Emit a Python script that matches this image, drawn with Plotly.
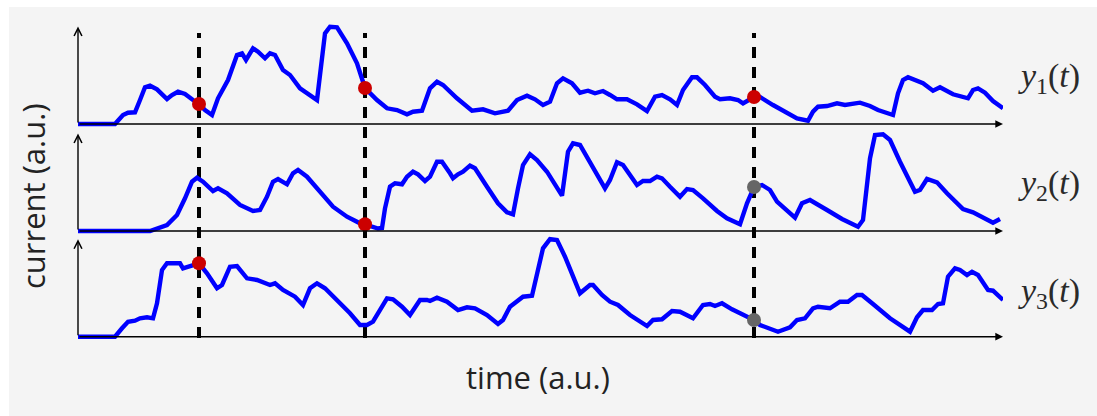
import plotly.graph_objects as go

# ---------------- data (time in a.u., current in a.u.) ----------------
t1 = [0, 37, 39, 45, 50, 57, 62, 67, 72, 79, 89, 94, 100, 107, 115, 121, 127, 134, 140, 150, 159, 164, 168, 175,
      180, 187, 192, 197, 205, 212, 222, 227, 239, 247, 252, 259, 269, 279, 287, 299, 309, 319, 329, 335, 344, 352,
      359, 365, 379, 394, 405, 417, 430, 439, 449, 457, 465, 472, 479, 485, 494, 502, 510, 517, 525, 532, 539, 549,
      559, 569, 577, 584, 592, 599, 605, 614, 619, 627, 637, 642, 652, 660, 665, 676, 682, 695, 709, 719, 730, 735,
      740, 749, 759, 767, 782, 792, 800, 815, 820, 825, 830, 845, 855, 862, 875, 882, 890, 895, 900, 907, 915, 925]
y1 = [0, 0, 2.3, 9, 11.3, 11.7, 24, 36.7, 38.3, 34.7, 25, 29, 32.3, 30, 24, 20, 14, 9, 25.7, 44, 69, 70.7, 64, 75.7,
      72.3, 65.7, 70.7, 69, 54, 49, 35.7, 32.3, 24, 90.7, 97.3, 96.7, 80.7, 60.7, 36, 24, 15.7, 14, 9.7, 12.3, 13.3,
      35.7, 42.3, 39, 25.7, 13.3, 14.7, 10.7, 13.3, 24, 28.3, 24.7, 19, 22.3, 40.7, 45.7, 40.7, 31.3, 33.3, 30.7, 33,
      29, 24.7, 24.7, 19.7, 13, 27.3, 29, 24.7, 19, 34, 46.7, 46.7, 39, 27.3, 24.7, 25.7, 24, 20.7, 27, 27, 19, 10.7,
      5.7, 3.3, 12.3, 17.3, 18, 20.7, 19, 21.3, 18, 14, 9, 30.7, 44, 46.7, 40.7, 33.3, 36.7, 29.7, 27.3, 25.7, 34,
      35.7, 31.3, 23, 15.7]

t2 = [0, 72, 89, 99, 107, 114, 119, 125, 135, 140, 149, 162, 175, 182, 189, 195, 200, 209, 215, 220, 229, 242, 255,
      269, 282, 287, 300, 304, 307, 312, 317, 324, 329, 335, 340, 347, 352, 359, 364, 372, 375, 380, 385, 392, 397,
      409, 420, 429, 435, 440, 445, 452, 459, 469, 484, 490, 495, 502, 510, 527, 532, 539, 545, 559, 565, 572, 579,
      584, 592, 602, 609, 615, 625, 639, 649, 662, 669, 676, 684, 692, 699, 717, 724, 732, 749, 764, 780, 785, 792,
      797, 805, 812, 822, 837, 842, 849, 859, 869, 885, 895, 915, 922]
y2 = [0, 0, 6, 16, 32.7, 49.3, 53.3, 49.3, 40, 42.7, 37.7, 26, 20, 21, 34.3, 49.3, 52, 46.7, 57.7, 61, 54.3, 39.3,
      24.3, 14.3, 7.7, 6.7, 2.5, 3, 22.7, 44.3, 47.7, 46.7, 54.3, 59.3, 56.7, 50, 54.3, 69.3, 69.3, 57.7, 52.7, 56.7,
      59.3, 65.3, 62.7, 44.3, 27.7, 18.7, 16.7, 42.7, 66, 76.7, 71, 59.3, 35.3, 79.3, 87.7, 86, 72.7, 42.7, 51, 68.7,
      66, 46, 50, 50, 54.3, 52.7, 44.3, 34.3, 42, 41, 32.7, 20, 12.7, 6.7, 27.7, 44, 46, 41, 29.3, 13.3, 27.7, 31, 21,
      12, 4.3, 11, 72.7, 96, 96.7, 91, 69.3, 39.3, 41, 52, 48.7, 37.7, 22, 18.7, 8.3, 12]

t3 = [0, 37, 44, 50, 57, 62, 69, 75, 79, 84, 89, 102, 105, 110, 115, 121, 129, 139, 144, 152, 159, 169, 179, 189,
      192, 197, 205, 217, 225, 232, 239, 247, 259, 272, 282, 289, 295, 302, 309, 315, 324, 332, 342, 349, 352, 359,
      369, 380, 389, 397, 409, 420, 425, 432, 439, 445, 454, 459, 465, 472, 479, 487, 495, 502, 512, 515, 524, 532,
      540, 552, 569, 575, 584, 594, 602, 615, 625, 632, 637, 644, 654, 662, 676, 682, 690, 700, 712, 719, 727, 735,
      740, 752, 762, 770, 779, 784, 795, 812, 832, 839, 845, 854, 860, 865, 870, 877, 882, 889, 894, 900, 910, 915,
      925]
y3 = [0, 0, 8.4, 15, 16, 18.4, 19.4, 18.4, 33.4, 66.7, 73.4, 73.4, 68.4, 70, 72.4, 73.4, 63.4, 48.4, 51.7, 70,
      70.7, 58.4, 56.7, 53.4, 51.7, 53.4, 46.7, 40, 31.7, 48.4, 53.4, 48.4, 36.7, 23.4, 11.7, 11.7, 15, 26.7, 38.4,
      37.4, 30, 21.7, 36.7, 36.7, 35.7, 39, 35, 26.7, 29.4, 28.4, 21.7, 12.7, 16.7, 30, 35, 40, 41, 61.7, 88.4, 97.5,
      96.7, 80, 60, 43.4, 51.7, 51.7, 41.7, 35, 31.7, 21.7, 10.7, 16.7, 17.4, 25.7, 25, 18.4, 31.7, 32.7, 30.7, 33.4,
      27.4, 23.4, 16.7, 11.7, 8.4, 5, 9.4, 16.7, 18.4, 28.4, 30, 28.4, 35, 35, 41.7, 41.7, 32.7, 18.4, 5, 19.4, 26.7,
      26.7, 32.7, 33.4, 60, 68.4, 66.7, 61.7, 65, 61.7, 46.7, 46, 36.7]

series_labels = ["<i>y</i><sub>1</sub>(<i>t</i>)", "<i>y</i><sub>2</sub>(<i>t</i>)", "<i>y</i><sub>3</sub>(<i>t</i>)"]

event_times = [121, 287, 676]
# dots: (series index, event index, value, kind)
dot_series = [0, 0, 0, 1, 1, 2, 2]
dot_event = [0, 1, 2, 1, 2, 0, 2]
dot_value = [20, 36, 27, 6.7, 44, 73.4, 16.7]
dot_kind = ["pos", "pos", "pos", "pos", "neg", "pos", "neg"]

# ---------------- layout geometry ----------------
W, H = 1097, 416
T_MAX = 925
Y_TOP = 97.5
baselines_px = [124, 231, 336.7]
x0_px, x1_px = 78, 1003
YLO, YHI = -4, 101

BLUE = "#0000ff"
DOT_COL = {"pos": "#cc0000", "neg": "#666666"}

fig = go.Figure()
ts = [t1, t2, t3]
ys = [y1, y2, y3]
for i in range(3):
    fig.add_trace(go.Scatter(x=ts[i], y=ys[i], mode="lines",
                             line=dict(color=BLUE, width=4.4),
                             xaxis="x", yaxis="y" if i == 0 else f"y{i+1}",
                             showlegend=False, hoverinfo="skip"))

for k in range(3):
    xs = [event_times[dot_event[j]] for j in range(len(dot_series)) if dot_series[j] == k]
    vs = [dot_value[j] for j in range(len(dot_series)) if dot_series[j] == k]
    cs = [DOT_COL[dot_kind[j]] for j in range(len(dot_series)) if dot_series[j] == k]
    fig.add_trace(go.Scatter(x=xs, y=vs, mode="markers",
                             marker=dict(color=cs, size=14, line=dict(width=0)),
                             xaxis="x", yaxis="y" if k == 0 else f"y{k+1}",
                             showlegend=False, hoverinfo="skip", cliponaxis=False))

layout = dict(
    width=W, height=H,
    margin=dict(l=0, r=0, t=0, b=0),
    paper_bgcolor="white",
    plot_bgcolor="rgba(0,0,0,0)",
    showlegend=False,
    xaxis=dict(domain=[x0_px / W, x1_px / W], range=[0, T_MAX], visible=False, fixedrange=True),
)
for i, b in enumerate(baselines_px):
    bot = b - YLO
    top = b - YHI
    key = "yaxis" if i == 0 else f"yaxis{i+1}"
    layout[key] = dict(domain=[1 - bot / H, 1 - top / H], range=[YLO, YHI], visible=False,
                       anchor="x", fixedrange=True)
fig.update_layout(**layout)

shapes = [dict(type="rect", xref="paper", yref="paper", x0=9 / W, x1=1, y0=0, y1=1 - 7 / H,
               fillcolor="#f4f4f4", line=dict(width=0), layer="below")]
for et in event_times:
    shapes.append(dict(type="line", xref="x", yref="paper", x0=et, x1=et,
                       y0=1 - 338 / H, y1=1 - 33 / H,
                       line=dict(color="black", width=4, dash="11px,9px"), layer="below"))
fig.update_layout(shapes=shapes)

annotations = []
for i in range(3):
    yr = "y" if i == 0 else f"y{i+1}"
    # horizontal time axis with arrow
    annotations.append(dict(x=T_MAX, y=0, ax=0, ay=0, xref="x", yref=yr, axref="x", ayref=yr,
                            text="", showarrow=True, arrowhead=2, arrowsize=1.1, arrowwidth=1.4,
                            arrowcolor="black"))
    # vertical current axis with arrow
    annotations.append(dict(x=0, y=Y_TOP, ax=0, ay=0, xref="x", yref=yr, axref="x", ayref=yr,
                            text="", showarrow=True, arrowhead=5, arrowsize=1.1, arrowwidth=1.4,
                            arrowcolor="black"))

label_y_px = [78, 185, 293]
for i in range(3):
    annotations.append(dict(x=1049 / W, y=1 - label_y_px[i] / H, xref="paper", yref="paper",
                            text=series_labels[i], showarrow=False,
                            font=dict(family="Liberation Serif, DejaVu Serif, serif", size=34, color="#2a2a2a"),
                            xanchor="center", yanchor="middle"))

annotations.append(dict(x=538 / W, y=1 - 377 / H, xref="paper", yref="paper", text="time (a.u.)",
                        showarrow=False, font=dict(family="Open Sans, sans-serif", size=31, color="#222222"),
                        xanchor="center", yanchor="middle"))
annotations.append(dict(x=33 / W, y=1 - 196 / H, xref="paper", yref="paper", text="current (a.u.)",
                        textangle=-90, showarrow=False,
                        font=dict(family="Open Sans, sans-serif", size=31, color="#222222"),
                        xanchor="center", yanchor="middle"))
fig.update_layout(annotations=annotations)

fig.write_html("out.html",
               config={"displayModeBar": False, "staticPlot": True},
               post_script="document.body.style.margin='0';document.body.style.padding='0';"
                           "document.body.style.overflow='hidden';")
